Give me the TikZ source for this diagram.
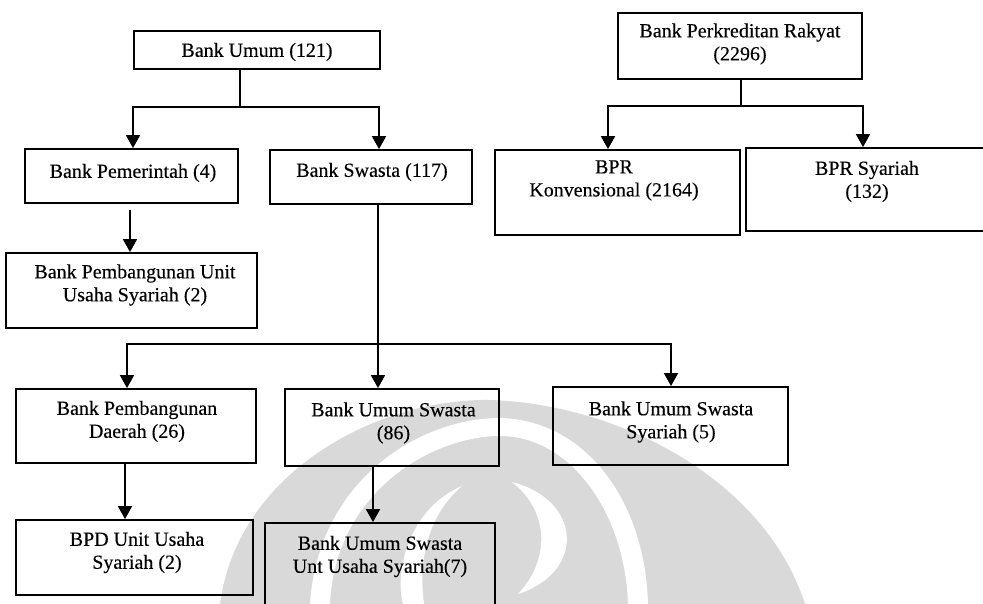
\documentclass[tikz,border=0pt]{standalone}
\usepackage{fontspec}
\setmainfont{Liberation Serif}
\newfontfamily\scanfont{Liberation Serif}[FakeBold=0.3]
\usetikzlibrary{arrows.meta}
\begin{document}
\begin{tikzpicture}[x=1pt,y=-1pt,line width=1.8pt,
  box/.style={draw,rectangle,inner sep=0pt},
  lbl/.style={font=\scanfont\fontsize{20}{23}\selectfont,align=center,inner sep=0pt},
  arr/.style={-{Triangle[width=14pt,length=13pt]}},
  wmark/.style={fill=black!15,draw=none},
  wgap/.style={fill=white,draw=none}]
\useasboundingbox (0,0) rectangle (983,604);
% watermark
\path[wmark] (220,604) .. controls (238,470) and (380,398) .. (490,400)
  .. controls (620,404) and (765,480) .. (805,604) -- cycle;
\path[wgap] (310,604) .. controls (318,480) and (420,418) .. (500,418)
  .. controls (585,420) and (645,500) .. (648,604)
  -- (628,604) .. controls (625,512) and (570,436) .. (500,436)
  .. controls (432,436) and (335,492) .. (330,604) -- cycle;
\path[wgap] (462,486) .. controls (410,508) and (394,570) .. (403,604)
  -- (424,604) .. controls (418,560) and (428,515) .. (462,486) -- cycle;
\path[wgap] (512,482) .. controls (582,500) and (586,572) .. (518,594)
  .. controls (550,560) and (550,512) .. (512,482) -- cycle;
% boxes
\node[box,minimum width=246pt,minimum height=38pt] (bu) at (257,50) {};
\node[box,minimum width=213pt,minimum height=54pt] (bp) at (131.5,176) {};
\node[box,minimum width=202pt,minimum height=54pt] (bs) at (371,177) {};
\node[box,minimum width=251pt,minimum height=75pt] (bpu) at (131.5,290.5) {};
\node[box,minimum width=240pt,minimum height=74pt] (bpd) at (136,426) {};
\node[box,minimum width=214pt,minimum height=77pt] (bus) at (392,427.5) {};
\node[box,minimum width=235pt,minimum height=78pt] (buss) at (670.5,426) {};
\node[box,minimum width=237pt,minimum height=75pt] (bpdu) at (134.5,557.5) {};
\node[box,minimum width=230pt,minimum height=117pt] (busu) at (380,581.5) {};
\node[box,minimum width=244pt,minimum height=66pt] (bpr) at (740,46) {};
\node[box,minimum width=245pt,minimum height=85pt] (bprk) at (617.5,192.5) {};
\node[box,minimum width=244pt,minimum height=83pt] (bprs) at (868,189.5) {};
% labels
\node[lbl] (tbu) at (257,52) {Bank Umum (121)};
\node[lbl] (tbp) at (133,173) {Bank Pemerintah (4)};
\node[lbl] (tbs) at (372,172) {Bank Swasta (117)};
\node[lbl] (tbpu) at (135,285) {Bank Pembangunan Unit\\Usaha Syariah (2)};
\node[lbl] (tbpd) at (137,421.5) {Bank Pembangunan\\Daerah (26)};
\node[lbl] (tbus) at (393.5,423) {Bank Umum Swasta\\(86)};
\node[lbl] (tbuss) at (671,422) {Bank Umum Swasta\\Syariah (5)};
\node[lbl] (tbpdu) at (137,552.5) {BPD Unit Usaha\\Syariah (2)};
\node[lbl] (tbusu) at (380,556.5) {Bank Umum Swasta\\Unt Usaha Syariah(7)};
\node[lbl] (tbpr) at (740,44) {Bank Perkreditan Rakyat\\(2296)};
\node[lbl] (tbprk) at (614,180.5) {BPR\\Konvensional (2164)};
\node[lbl] (tbprs) at (867,181.5) {BPR Syariah\\(132)};
% connectors
\coordinate (j1) at (240,107);
\draw (bu.south -| j1) -- (j1);
\draw[arr] (j1) -| ([xshift=1.5pt]bp.north);
\draw[arr] (j1) -| ([xshift=8pt]bs.north);
\draw[arr] ([xshift=-1.5pt,yshift=-6pt]bp.south) coordinate (s1) -- (s1 |- bpu.north);
\coordinate (j2) at (378,344);
\draw (bs.south -| j2) -- (j2);
\draw[arr] (j2) -| ([xshift=-9pt]bpd.north);
\draw[arr] (j2) -- (j2 |- bus.north);
\draw[arr] (j2) -| ([xshift=0.5pt]buss.north);
\draw[arr] ([xshift=-11pt]bpd.south) coordinate (s2) -- (s2 |- bpdu.north);
\draw[arr] ([xshift=-19pt]bus.south) coordinate (s3) -- (s3 |- busu.north);
\coordinate (j3) at (741,106);
\draw (bpr.south -| j3) -- (j3);
\draw[arr] (j3) -| ([xshift=-9.5pt]bprk.north);
\draw[arr] (j3) -| ([xshift=-5pt]bprs.north);
\end{tikzpicture}
\end{document}
